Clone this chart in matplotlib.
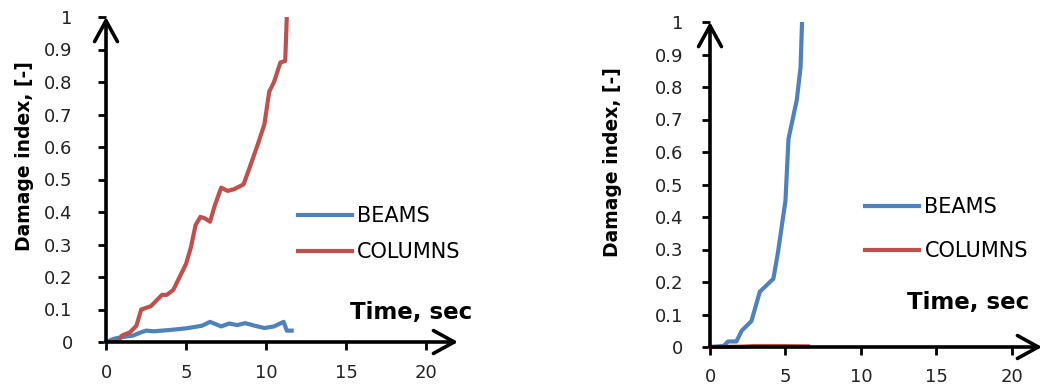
import matplotlib.pyplot as plt

# left panel
t_col_l = [0, 0.7, 1.0, 1.5, 1.9, 2.2, 2.8, 3.2, 3.5, 3.8, 4.2, 4.6, 5.0, 5.3, 5.6,
           5.9, 6.2, 6.5, 6.8, 7.2, 7.6, 8.0, 8.6, 9.0, 9.5, 9.9, 10.2, 10.5, 10.9,
           11.2, 11.3]
d_col_l = [0, 0, 0.02, 0.03, 0.05, 0.10, 0.11, 0.13, 0.145, 0.145, 0.16, 0.20, 0.24,
           0.29, 0.36, 0.385, 0.38, 0.37, 0.42, 0.475, 0.465, 0.47, 0.485, 0.54,
           0.61, 0.67, 0.77, 0.80, 0.86, 0.865, 1.0]
t_beam_l = [0, 0.5, 1.0, 1.7, 2.2, 2.5, 3.0, 4.0, 5.0, 6.0, 6.5, 7.2, 7.7, 8.2,
            8.7, 9.3, 9.9, 10.5, 11.1, 11.3, 11.6]
d_beam_l = [0, 0.01, 0.015, 0.02, 0.03, 0.035, 0.033, 0.037, 0.042, 0.05, 0.062,
            0.048, 0.057, 0.052, 0.058, 0.05, 0.043, 0.048, 0.062, 0.035, 0.035]

# right panel
t_beam_r = [0, 0.9, 1.2, 1.75, 2.1, 2.75, 3.3, 4.2, 4.5, 5.0, 5.2, 5.75, 6.0, 6.1]
d_beam_r = [0, 0.003, 0.017, 0.017, 0.05, 0.08, 0.17, 0.21, 0.29, 0.45, 0.64,
            0.76, 0.86, 1.0]
t_col_r = [0, 2.0, 3.0, 4.5, 6.5]
d_col_r = [0, 0.001, 0.003, 0.003, 0.002]

x_ticks = [0, 5, 10, 15, 20]
y_ticks = [0, 0.1, 0.2, 0.3, 0.4, 0.5, 0.6, 0.7, 0.8, 0.9, 1]
y_labels = ['0', '0.1', '0.2', '0.3', '0.4', '0.5', '0.6', '0.7', '0.8', '0.9', '1']

blue = '#4F81BD'
red = '#C0504D'
W, H = 1040, 385

fig = plt.figure(figsize=(W / 100, H / 100), dpi=100)


def setup(ax, ypad, xpad):
    for s in ax.spines.values():
        s.set_visible(False)
    ax.set_xlim(0, 22)
    ax.set_ylim(0, 1)
    ax.set_xticks(x_ticks)
    ax.set_yticks(y_ticks)
    ax.set_yticklabels(y_labels)
    ax.tick_params(axis='y', direction='out', length=6, width=2, pad=ypad,
                   labelsize=13, labelcolor='#222222')
    ax.tick_params(axis='x', direction='out', length=6, width=2, pad=xpad,
                   labelsize=13, labelcolor='#222222')
    arrow = dict(arrowstyle='->,head_length=1.0,head_width=0.55', mutation_scale=15,
                 lw=2.6, color='black', shrinkA=0, shrinkB=0)
    ax.annotate('', xy=(22, 0), xytext=(0, 0), arrowprops=arrow, annotation_clip=False)
    ax.annotate('', xy=(0, 1.0), xytext=(0, 0), arrowprops=arrow, annotation_clip=False)


# left
ax1 = fig.add_axes([106 / W, 43 / H, 352 / W, 325 / H])
setup(ax1, 18, 10)
ax1.plot(t_beam_l, d_beam_l, color=blue, lw=3, label='BEAMS', clip_on=False)
ax1.plot(t_col_l, d_col_l, color=red, lw=3, label='COLUMNS')
ax1.legend(loc='upper left', bbox_to_anchor=(298 / W, 1 - 206 / H),
           bbox_transform=fig.transFigure, frameon=False, fontsize=15,
           borderpad=0, borderaxespad=0, handlelength=2.6, handletextpad=0.25,
           labelspacing=0.78)
fig.text(25 / W, 1 - 156 / H, 'Damage index, [-]', rotation=90, ha='center',
         va='center', fontsize=13.5, fontweight='bold')
fig.text(350 / W, 1 - 313 / H, 'Time, sec', ha='left', va='center',
         fontsize=16.5, fontweight='bold')

# right
ax2 = fig.add_axes([710 / W, 38 / H, 332 / W, 325 / H])
setup(ax2, 13, 9)
ax2.plot(t_beam_r, d_beam_r, color=blue, lw=3, label='BEAMS')
ax2.plot(t_col_r, d_col_r, color=red, lw=3, label='COLUMNS', clip_on=False)
ax2.legend(loc='upper left', bbox_to_anchor=(865 / W, 1 - 197 / H),
           bbox_transform=fig.transFigure, frameon=False, fontsize=15,
           borderpad=0, borderaxespad=0, handlelength=2.6, handletextpad=0.25,
           labelspacing=1.15)
fig.text(612 / W, 1 - 162 / H, 'Damage index, [-]', rotation=90, ha='center',
         va='center', fontsize=13.5, fontweight='bold')
fig.text(907 / W, 1 - 302 / H, 'Time, sec', ha='left', va='center',
         fontsize=16.5, fontweight='bold')

fig.savefig('out.png', dpi=100)
